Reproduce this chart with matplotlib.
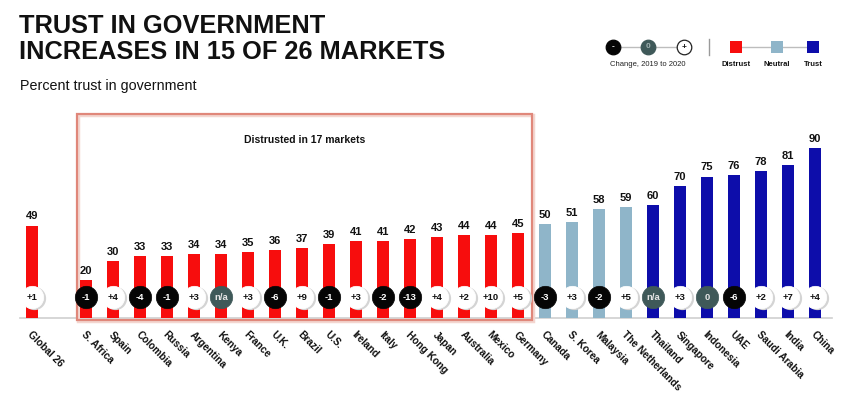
import matplotlib
matplotlib.use("Agg")
import matplotlib.pyplot as plt
from matplotlib.patches import Rectangle

plt.rcParams['font.family'] = ['Liberation Sans', 'DejaVu Sans']

# ---------------- data ----------------
markets = ["Global 26", "S. Africa", "Spain", "Colombia", "Russia", "Argentina", "Kenya",
           "France", "U.K.", "Brazil", "U.S.", "Ireland", "Italy", "Hong Kong", "Japan",
           "Australia", "Mexico", "Germany", "Canada", "S. Korea", "Malaysia",
           "The Netherlands", "Thailand", "Singapore", "Indonesia", "UAE", "Saudi Arabia",
           "India", "China"]
trust = [49, 20, 30, 33, 33, 34, 34, 35, 36, 37, 39, 41, 41, 42, 43, 44, 44, 45,
         50, 51, 58, 59, 60, 70, 75, 76, 78, 81, 90]
change = ["+1", "-1", "+4", "-4", "-1", "+3", "n/a", "+3", "-6", "+9", "-1", "+3", "-2",
          "-13", "+4", "+2", "+10", "+5", "-3", "+3", "-2", "+5", "n/a", "+3", "0", "-6",
          "+2", "+7", "+4"]
category = ["Distrust"] * 18 + ["Neutral"] * 4 + ["Trust"] * 7

colors = {"Distrust": "#f70d0d", "Neutral": "#8fb5c9", "Trust": "#0d0daa"}

W, H = 850, 396
fig = plt.figure(figsize=(W / 100, H / 100), dpi=100)
ax = fig.add_axes([0, 0, 1, 1])
ax.axis("off")

# pixel mapping: bar centre at 32 + 27*pos ; baseline at y=318px, 1.885 px per unit
px_per = 27.0
x0 = 32.0
ax.set_xlim((0 - x0) / px_per, (W - x0) / px_per)
base_from_bottom = H - 318
ppu = 1.885
ax.set_ylim(-base_from_bottom / ppu, (H - base_from_bottom) / ppu)

pos = [0] + list(range(2, len(markets) + 1))

def fx(px):
    return px / W

def fy(py):
    return 1 - py / H

# baseline
ax.plot([(20 - x0) / px_per, (832 - x0) / px_per], [0, 0], color="#cfcfcf", lw=1.2, zorder=1)

# distrust box
bx0 = (77 - x0) / px_per
bx1 = (532 - x0) / px_per
by0 = -2 / ppu
by1 = (318 - 114) / ppu
ax.add_patch(Rectangle((bx0 + 0.05, by0 - 0.6), bx1 - bx0, by1 - by0, fill=False,
                       edgecolor="#f3d6d0", lw=2.5, zorder=1))
ax.add_patch(Rectangle((bx0, by0), bx1 - bx0, by1 - by0, fill=False,
                       edgecolor="#e0877a", lw=1.6, zorder=2))
ax.text((bx0 + bx1) / 2, (318 - 140) / ppu, "Distrusted in 17 markets", ha="center",
        va="center", fontsize=7.5, fontweight="bold", color="#111111", zorder=3)

# bars
bar_colors = [colors[c] for c in category]
ax.bar(pos, trust, width=0.47, color=bar_colors, zorder=3)

# value labels
for p, v in zip(pos, trust):
    ax.text(p, v + 2.2, str(v), ha="center", va="bottom", fontsize=8,
            fontweight="bold", color="#111111", zorder=4)

# change circles
cy = (318 - 297) / ppu
for p, c in zip(pos, change):
    if c in ("n/a", "0"):
        fc, tc, ec = "#3f5959", "#e6e6e6", "#3f5959"
    elif c.startswith("-"):
        fc, tc, ec = "#050505", "#ffffff", "#050505"
    else:
        fc, tc, ec = "#ffffff", "#111111", "#ffffff"
    if fc == "#ffffff":
        ax.scatter([p + 0.06], [cy - 0.6], s=280, color="#d4d4d4", zorder=4, linewidths=0)
    ax.scatter([p], [cy], s=260, color=fc, edgecolors=ec, linewidths=0.5, zorder=5)
    ax.text(p, cy, c, ha="center", va="center", fontsize=6.8, fontweight="bold",
            color=tc, zorder=6)

# x labels
for p, m in zip(pos, markets):
    ax.text(p + 0.04, -11.5 / ppu, m, rotation=-45, rotation_mode="anchor",
            ha="left", va="top", fontsize=7.3, fontweight="bold", color="#111111")

# title
fig.text(fx(19), fy(14), "TRUST IN GOVERNMENT\nINCREASES IN 15 OF 26 MARKETS",
         ha="left", va="top", fontsize=18.3, fontweight="bold", color="#111111",
         linespacing=1.12)
fig.text(fx(20), fy(86), "Percent trust in government", ha="left", va="center",
         fontsize=10.3, color="#111111")

# legend: change circles
ly = fy(47)
ax.plot([fx(613), fx(684)], [ly, ly], color="#bdbdbd", lw=1, transform=fig.transFigure,
        zorder=6, clip_on=False)
leg_circ = [(613, "#050505", "#050505", "-", "#ffffff"),
            (648, "#3f5959", "#3f5959", "0", "#9fb0b0"),
            (684, "#ffffff", "#222222", "+", "#111111")]
for px, fc, ec, t, tc in leg_circ:
    ax.scatter([fx(px)], [ly], s=110, color=fc, edgecolors=ec, linewidths=0.9,
               transform=fig.transFigure, zorder=7, clip_on=False)
    ax.text(fx(px), ly, t, transform=fig.transFigure, ha="center", va="center",
            fontsize=6, fontweight="bold", color=tc, zorder=8)
fig.text(fx(648), fy(64), "Change, 2019 to 2020", ha="center", va="center",
         fontsize=5.5, color="#222222")

# separator
ax.plot([fx(709), fx(709)], [fy(39), fy(55)], color="#9a9a9a", lw=1,
        transform=fig.transFigure, clip_on=False)

# legend: categories
ax.plot([fx(736), fx(813)], [ly, ly], color="#bdbdbd", lw=1, transform=fig.transFigure,
        zorder=6, clip_on=False)
for px, cat in [(736, "Distrust"), (777, "Neutral"), (813, "Trust")]:
    ax.scatter([fx(px)], [ly], s=75, marker="s", color=colors[cat],
               transform=fig.transFigure, zorder=7, clip_on=False, linewidths=0)
    fig.text(fx(px), fy(64), cat, ha="center", va="center", fontsize=5.5,
             fontweight="bold", color="#111111")

fig.savefig("out.png", dpi=100)
